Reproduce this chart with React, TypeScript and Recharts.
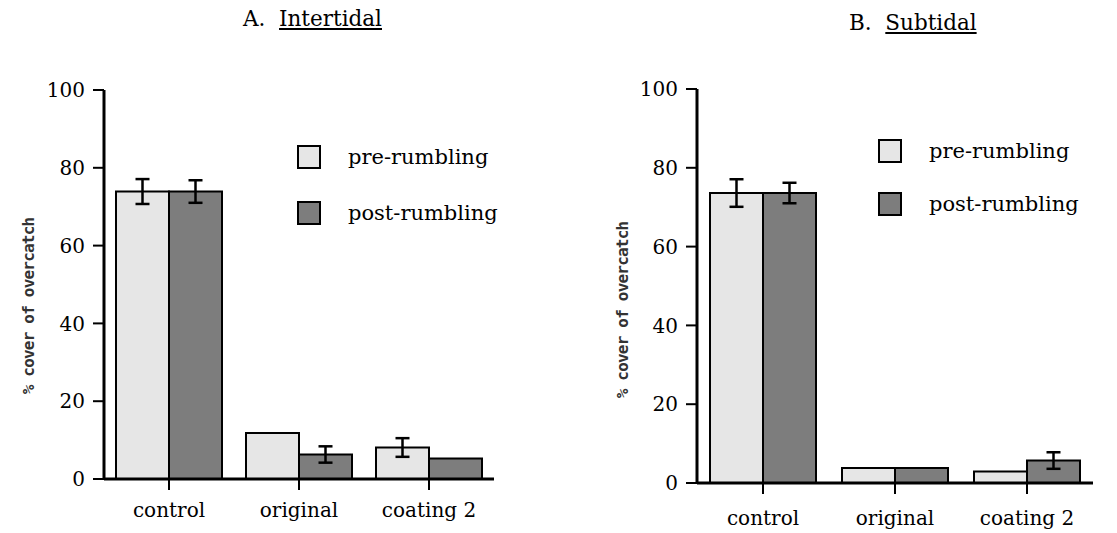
import React from 'react';
import { BarChart, Bar, XAxis, YAxis, ErrorBar, Legend } from 'recharts';

const categories = ['control', 'original', 'coating 2'];
const yTicks = [0, 20, 40, 60, 80, 100];
const seriesNames = ['pre-rumbling', 'post-rumbling'];

const intertidalPre = [73.9, 11.8, 8.1];
const intertidalPreErr = [3.2, null, 2.4];
const intertidalPost = [73.9, 6.3, 5.3];
const intertidalPostErr = [2.9, 2.1, null];

const subtidalPre = [73.6, 3.8, 2.9];
const subtidalPreErr = [3.5, null, null];
const subtidalPost = [73.6, 3.8, 5.7];
const subtidalPostErr = [2.6, null, 2.1];

const PRE_FILL = '#e6e6e6';
const POST_FILL = '#7d7d7d';
const SERIF = "'DejaVu Serif', serif";
const MONO = "'DejaVu Sans Mono', monospace";

const build = (pre: number[], preErr: (number | null)[], post: number[], postErr: (number | null)[]) =>
  categories.map((c, i) => ({ name: c, pre: pre[i], preErr: preErr[i], post: post[i], postErr: postErr[i] }));

const intertidalData = build(intertidalPre, intertidalPreErr, intertidalPost, intertidalPostErr);
const subtidalData = build(subtidalPre, subtidalPreErr, subtidalPost, subtidalPostErr);

const LegendBox = ({ gap }: { gap: number }) => (
  <div style={{ fontFamily: SERIF, fontSize: 21, color: '#000' }}>
    {seriesNames.map((n, i) => (
      <div key={n} style={{ display: 'flex', alignItems: 'center', height: 24, marginBottom: i === 0 ? gap : 0 }}>
        <div style={{ width: 20, height: 20, border: '2px solid #000', background: i === 0 ? PRE_FILL : POST_FILL, boxSizing: 'content-box' }} />
        <span style={{ marginLeft: 27, lineHeight: '24px', whiteSpace: 'nowrap' }}>{n}</span>
      </div>
    ))}
  </div>
);

type PanelProps = {
  data: typeof intertidalData;
  left: number;
  width: number;
  marginLeft: number;
  marginRight: number;
  marginTop: number;
  xAxisHeight: number;
  xTickMargin: number;
  gap: number;
  legendLeft: number;
  legendTop: number;
  legendGap: number;
  labelX: number;
  labelY: number;
};

const Panel = (p: PanelProps) => (
  <div style={{ position: 'absolute', left: p.left, top: 0 }}>
    <BarChart
      width={p.width}
      height={533}
      data={p.data}
      margin={{ top: p.marginTop, right: p.marginRight, bottom: 0, left: p.marginLeft }}
      barCategoryGap={p.gap}
      barGap={0}
    >
      <XAxis
        dataKey="name"
        axisLine={{ stroke: '#000', strokeWidth: 3 }}
        tickLine={{ stroke: '#000', strokeWidth: 2 }}
        tickSize={11}
        tickMargin={p.xTickMargin}
        height={p.xAxisHeight}
        tick={{ fill: '#000', fontSize: 20, style: { fontFamily: SERIF } }}
        interval={0}
      />
      <YAxis
        domain={[0, 100]}
        ticks={yTicks}
        width={60}
        axisLine={{ stroke: '#000', strokeWidth: 3 }}
        tickLine={{ stroke: '#000', strokeWidth: 2 }}
        tickSize={11}
        tickMargin={8}
        tick={{ fill: '#000', fontSize: 20, style: { fontFamily: SERIF } }}
        label={{
          content: () => (
            <text
              x={p.labelX}
              y={p.labelY}
              transform={`rotate(-90 ${p.labelX} ${p.labelY})`}
              textAnchor="middle"
              dominantBaseline="central"
              style={{ fontFamily: MONO, letterSpacing: -0.8 }}
              fontWeight="bold"
              fontSize={16}
              fill="#333"
            >
              % cover of overcatch
            </text>
          ),
        }}
      />
      <Legend
        layout="horizontal"
        verticalAlign="middle"
        align="center"
        content={() => <LegendBox gap={p.legendGap} />}
        wrapperStyle={{ position: 'absolute', left: p.legendLeft, top: p.legendTop, width: 230, height: 80 }}
      />
      <Bar dataKey="pre" name={seriesNames[0]} fill={PRE_FILL} stroke="#000" strokeWidth={2} isAnimationActive={false}>
        <ErrorBar dataKey="preErr" width={7} stroke="#000" strokeWidth={2.5} />
      </Bar>
      <Bar dataKey="post" name={seriesNames[1]} fill={POST_FILL} stroke="#000" strokeWidth={2} isAnimationActive={false}>
        <ErrorBar dataKey="postErr" width={7} stroke="#000" strokeWidth={2.5} />
      </Bar>
    </BarChart>
  </div>
);

const Title = ({ letter, word, left, top }: { letter: string; word: string; left: number; top: number }) => (
  <div style={{ position: 'absolute', left, top, fontFamily: SERIF, fontSize: 21.5, color: '#000', whiteSpace: 'pre' }}>
    {letter + '  '}
    <span style={{ textDecoration: 'underline' }}>{word}</span>
  </div>
);

export default function App() {
  return (
    <div style={{ position: 'absolute', left: 0, top: 0, width: 1117, height: 533, background: '#fff', overflow: 'hidden' }}>
      <Title letter="A." word="Intertidal" left={243} top={6} />
      <Title letter="B." word="Subtidal" left={849} top={10} />
      <Panel
        data={intertidalData}
        left={0}
        width={560}
        marginLeft={44}
        marginRight={66}
        marginTop={90}
        xAxisHeight={54}
        xTickMargin={13}
        gap={12}
        legendLeft={297}
        legendTop={145}
        legendGap={32}
        labelX={28}
        labelY={306}
      />
      <Panel
        data={subtidalData}
        left={560}
        width={557}
        marginLeft={77}
        marginRight={24}
        marginTop={89}
        xAxisHeight={50}
        xTickMargin={17}
        gap={13}
        legendLeft={318}
        legendTop={139}
        legendGap={29}
        labelX={62}
        labelY={310}
      />
    </div>
  );
}
